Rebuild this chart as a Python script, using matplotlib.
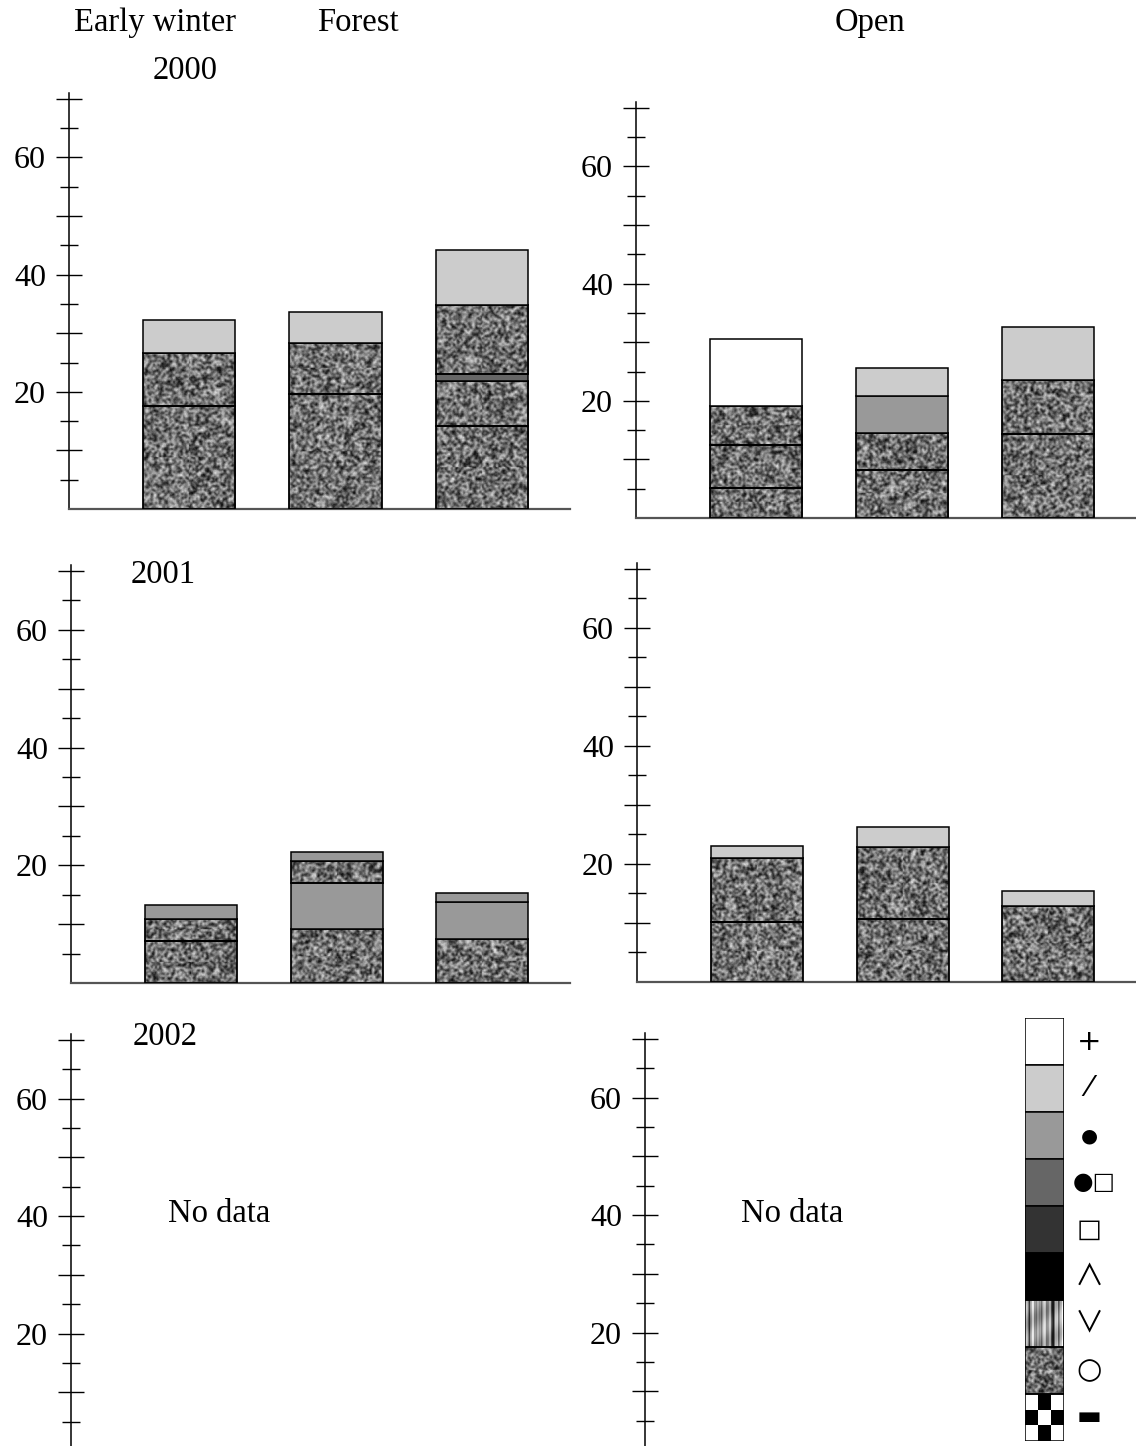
import numpy as np
import matplotlib
matplotlib.use('Agg')
import matplotlib.pyplot as plt
from matplotlib.patches import Rectangle

W, H = 1136, 1446

# ---------------- data ----------------
bar_positions = [1, 2, 3]

# cumulative tops of stacked segments (bottom to top) and their legend codes
forest_2000_tops = [[17.6, 26.6, 32.3], [19.6, 28.3, 33.6], [14.2, 21.8, 23.0, 34.8, 44.2]]
forest_2000_cats = [['o', 'o', '/'], ['o', 'o', '/'], ['o', 'o', '•□', 'o', '/']]

open_2000_tops = [[5.2, 12.4, 19.2, 30.5], [8.2, 14.5, 20.8, 25.6], [14.4, 23.5, 32.6]]
open_2000_cats = [['o', 'o', 'o', '+'], ['o', 'o', '•', '/'], ['o', 'o', '/']]

forest_2001_tops = [[7.1, 10.9, 13.3], [9.1, 17.0, 20.7, 22.2], [7.4, 13.7, 15.3]]
forest_2001_cats = [['o', 'o', '•'], ['o', '•', 'o', '•'], ['o', '•', '•']]

open_2001_tops = [[10.2, 21.0, 23.1], [10.6, 22.8, 26.3], [12.9, 15.4]]
open_2001_cats = [['o', 'o', '/'], ['o', 'o', '/'], ['o', '/']]

legend_codes = ['+', '/', '•', '•□', '□', '∧', '∨', 'o', '▬']
legend_symbols = ['+', '⁄', '●', '●□', '□', '∧', '∨', '○', '▬']

yticks_major = [10, 20, 30, 40, 50, 60, 70]
yticks_minor = [5, 15, 25, 35, 45, 55, 65]
ytick_labels = ['', '20', '', '40', '', '60', '']

# ---------------- style ----------------
code_colors = {'+': '#ffffff', '/': '#cccccc', '•': '#999999', '•□': '#666666',
               '□': '#333333', '∧': '#000000'}
SERIF = ['Liberation Serif', 'DejaVu Serif']
plt.rcParams['font.family'] = SERIF

# granular texture (visual fill pattern only)
rng = np.random.default_rng(7)
base = rng.random((H // 2 + 8, W // 2 + 8))
up = np.repeat(np.repeat(base, 2, 0), 2, 1)
fine = rng.random(up.shape)
sm = np.zeros_like(up)
for dy in (-1, 0, 1):
    for dx in (-1, 0, 1):
        sm += np.roll(np.roll(up, dy, 0), dx, 1)
sm = sm / 9 + 0.05 * fine
sm = (sm - sm.mean()) / sm.std()
tex = np.clip(0.44 + 0.14 * sm, 0.08, 0.9)

fig = plt.figure(figsize=(W / 100, H / 100), dpi=100)

XLIM = (0.18, 3.6)
YLIM = (0, 71)
BW = 0.63


def add_ax(left, right, zero, top, show_bottom=True):
    ax = fig.add_axes([left / W, 1 - zero / H, (right - left) / W, (zero - top) / H])
    ax.set_xlim(*XLIM)
    ax.set_ylim(*YLIM)
    for s in ('top', 'right'):
        ax.spines[s].set_visible(False)
    ax.spines['left'].set_linewidth(1.1)
    ax.spines['left'].set_color('black')
    ax.spines['bottom'].set_linewidth(1.6)
    ax.spines['bottom'].set_color('#555555')
    ax.spines['bottom'].set_visible(show_bottom)
    ax.set_xticks([])
    ax.set_yticks(yticks_major)
    ax.set_yticklabels(ytick_labels)
    ax.set_yticks(yticks_minor, minor=True)
    ax.tick_params(axis='y', which='major', direction='inout', length=19, width=1.0,
                   pad=7, labelsize=23, colors='black')
    ax.tick_params(axis='y', which='minor', direction='inout', length=13, width=1.0)
    ax.patch.set_visible(False)
    return ax


def draw_stack(ax, tops_list, cats_list):
    for x, tops, cats in zip(bar_positions, tops_list, cats_list):
        bottom = 0.0
        for top, code in zip(tops, cats):
            h = top - bottom
            if code == 'o':
                ax.bar(x, h, bottom=bottom, width=BW, facecolor='none',
                       edgecolor='black', linewidth=1.3, zorder=3)
                p0 = ax.transData.transform((x - BW / 2, bottom))
                p1 = ax.transData.transform((x + BW / 2, top))
                r0, r1 = int(H - p1[1]), int(H - p0[1]) + 1
                c0, c1 = int(p0[0]), int(p1[0]) + 1
                patch = tex[max(r0, 0):r1, max(c0, 0):c1]
                ax.imshow(patch, cmap='gray', vmin=0, vmax=1, aspect='auto',
                          extent=(x - BW / 2, x + BW / 2, bottom, top),
                          interpolation='nearest', zorder=2)
            else:
                ax.bar(x, h, bottom=bottom, width=BW, color=code_colors[code],
                       edgecolor='black', linewidth=1.1, zorder=3)
            bottom = top
    ax.set_xlim(*XLIM)
    ax.set_ylim(*YLIM)


ax1 = add_ax(69, 570, 509, 93)
ax2 = add_ax(636, 1136, 518, 102)
ax3 = add_ax(71, 570, 983, 565)
ax4 = add_ax(637, 1136, 982, 563)
ax5 = add_ax(71, 570, 1451, 1034, show_bottom=False)
ax6 = add_ax(645, 1000, 1450, 1033, show_bottom=False)

draw_stack(ax1, forest_2000_tops, forest_2000_cats)
draw_stack(ax2, open_2000_tops, open_2000_cats)
draw_stack(ax3, forest_2001_tops, forest_2001_cats)
draw_stack(ax4, open_2001_tops, open_2001_cats)


def ftext(x, y, s, size=23.5, **kw):
    fig.text(x / W, 1 - y / H, s, ha='center', va='center', fontsize=size, **kw)


ftext(155, 23, 'Early winter')
ftext(358, 23, 'Forest')
ftext(870, 23, 'Open')
ftext(185, 71, '2000')
ftext(163, 575, '2001')
ftext(165, 1037, '2002')
ftext(219, 1214, 'No data')
ftext(792, 1214, 'No data')

# ---------------- legend ----------------
L0, L1, T0, T1 = 1025, 1064, 1018, 1441
axl = fig.add_axes([L0 / W, 1 - T1 / H, (L1 - L0) / W, (T1 - T0) / H])
axl.set_xlim(0, 1)
axl.set_ylim(0, 9)
axl.axis('off')
n = len(legend_codes)
row_h = (T1 - T0) / n
sym_sizes = {'+': 21, '⁄': 21, '●': 14, '●□': 17, '□': 19, '∧': 21, '∨': 21, '○': 21, '▬': 19}
sym_fams = {'∧': ['Noto Sans CJK JP', 'DejaVu Sans'], '∨': ['Noto Sans CJK JP', 'DejaVu Sans']}
for i, (code, sym) in enumerate(zip(legend_codes, legend_symbols)):
    y0, y1 = n - i - 1, n - i
    if code in code_colors:
        axl.add_patch(Rectangle((0, y0), 1, 1, facecolor=code_colors[code],
                                edgecolor='black', linewidth=1.1, zorder=3))
    else:
        if code == 'o':
            r0 = int(T0 + i * row_h)
            img = tex[r0:r0 + int(row_h) + 1, L0:L1]
            interp = 'nearest'
        elif code == '∨':
            xs = np.linspace(0, 1, 40)
            prof = (0.66 + 0.22 * np.sin(xs * 41) + 0.15 * np.sin(xs * 97 + 1.3)
                    - 0.45 * np.exp(-((xs - 0.72) / 0.06) ** 2)
                    - 0.3 * np.exp(-((xs - 0.08) / 0.04) ** 2)
                    - 0.3 * np.exp(-((xs - 0.35) / 0.03) ** 2))
            ys = np.linspace(0, 1, 48)[:, None]
            img = np.clip(prof[None, :] + 0.08 * np.sin(ys * 9 + xs[None, :] * 5), 0.1, 1)
            interp = 'bilinear'
        else:
            img = np.array([[1, 0, 1], [0, 1, 0], [1, 0, 1]], dtype=float)
            interp = 'nearest'
        axl.imshow(img, cmap='gray', vmin=0, vmax=1, aspect='auto',
                   extent=(0, 1, y0, y1), interpolation=interp, zorder=2)
        axl.add_patch(Rectangle((0, y0), 1, 1, facecolor='none',
                                edgecolor='black', linewidth=1.1, zorder=3))
    axl.set_xlim(0, 1)
    axl.set_ylim(0, 9)
    yc = T0 + (i + 0.5) * row_h
    xc = 1094 if sym == '●□' else 1089
    ftext(xc, yc, sym, size=sym_sizes[sym], family=sym_fams.get(sym, ['DejaVu Sans']))

fig.savefig('out.png', dpi=100)
